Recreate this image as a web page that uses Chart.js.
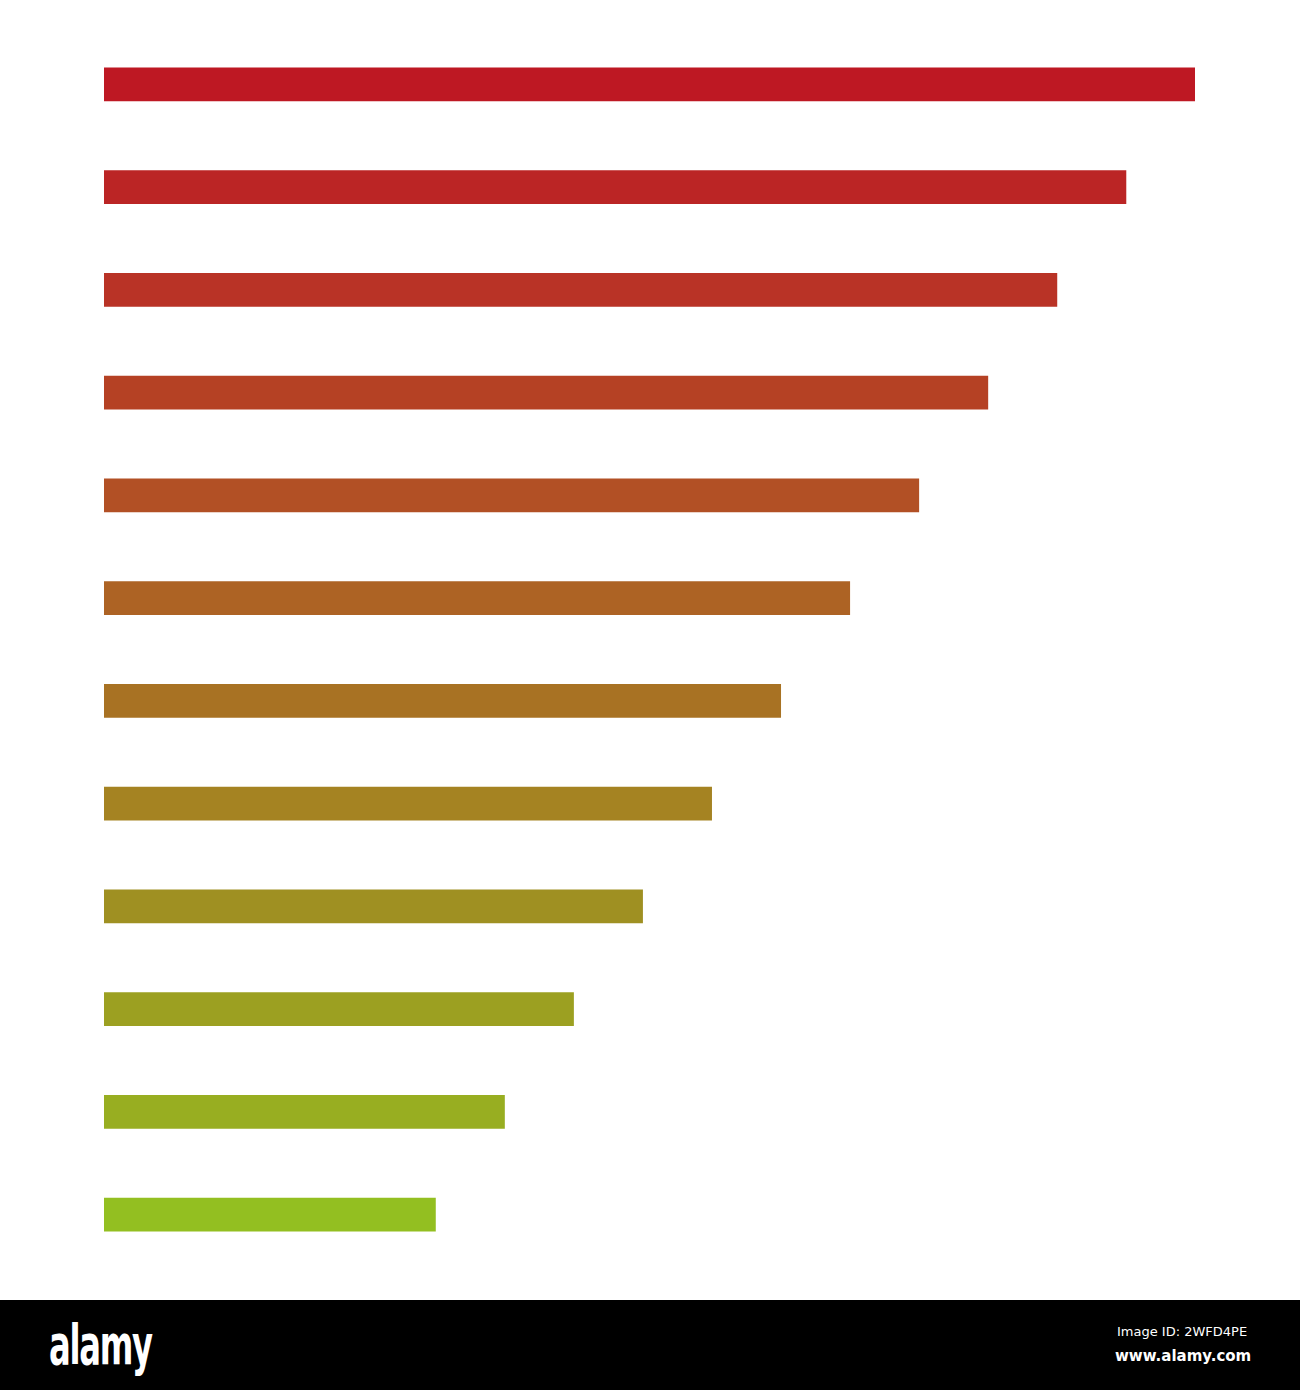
<!DOCTYPE html>
<html>
<head>
<meta charset="utf-8">
<script src="https://cdn.jsdelivr.net/npm/chart.js@4/dist/chart.umd.min.js"></script>
<style>
    html, body { margin: 0; padding: 0; background: #fff; }
    .chart-box { width: 1300px; height: 1300px; position: relative; }
    .footer {
        width: 1300px; height: 90px; background: #000; position: relative;
        color: #fff; font-family: "DejaVu Sans", sans-serif;
    }
    .logo {
        position: absolute; left: 49px; top: 12px;
        font-family: "Liberation Sans Narrow", "DejaVu Sans Condensed", sans-serif;
        font-weight: bold; font-size: 56px; letter-spacing: -2px; transform: scaleX(0.64); transform-origin: left;
    }
    .image-id { position: absolute; left: 1117px; top: 24px; font-size: 13px; }
    .site { position: absolute; left: 1115px; top: 47px; font-size: 15px; font-weight: bold; }
</style>
</head>
<body>
<div class="chart-box"><canvas id="bars"></canvas></div>
<div class="footer">
    <div class="logo">alamy</div>
    <div class="image-id">Image ID: 2WFD4PE</div>
    <div class="site">www.alamy.com</div>
</div>
<script>
// 12 bars, each one step shorter than the one above
const categories = ['1', '2', '3', '4', '5', '6', '7', '8', '9', '10', '11', '12'];
const values = [158, 148, 138, 128, 118, 108, 98, 88, 78, 68, 58, 48];
const barColors = [
    '#BE1823', '#BB2525', '#B93326', '#B54124', '#B25025', '#AD6324',
    '#A87223', '#A58322', '#9F9022', '#9CA021', '#98AE21', '#93BF21'
];

const ctx = document.getElementById('bars').getContext('2d');
new Chart(ctx, {
    type: 'bar',
    data: {
        labels: categories,
        datasets: [{
            data: values,
            backgroundColor: barColors,
            borderWidth: 0,
            barThickness: 33
        }]
    },
    options: {
        indexAxis: 'y',
        responsive: true,
        maintainAspectRatio: false,
        animation: false,
        layout: { padding: { left: 104, right: 105, top: 33, bottom: 34 } },
        plugins: {
            legend: { display: false },
            tooltip: { enabled: false }
        },
        scales: {
            x: { display: false, min: 0, max: 158 },
            y: { display: false }
        }
    }
});
</script>
</body>
</html>
